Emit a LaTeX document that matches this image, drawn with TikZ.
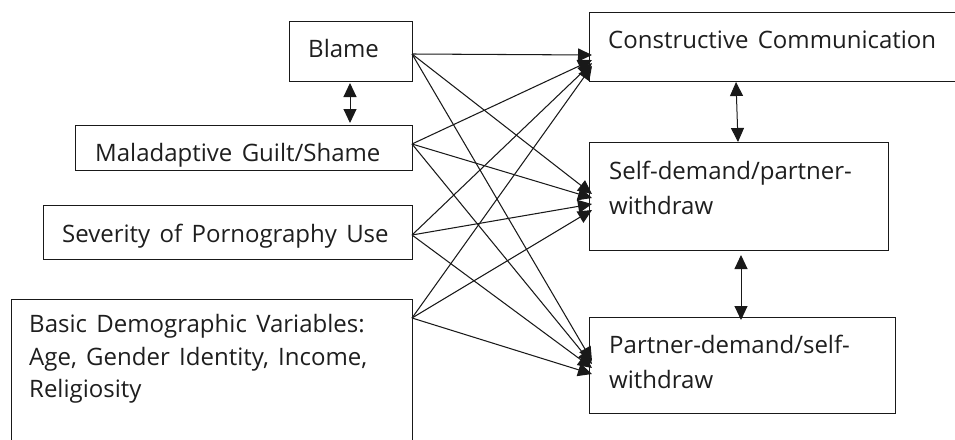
\documentclass[tikz,border=0pt]{standalone}
\usepackage{fontspec}
\setmainfont{Open Sans}[WordSpace=1.5]
\usetikzlibrary{arrows.meta}
\definecolor{ink}{RGB}{25,25,25}
\definecolor{txt}{RGB}{30,30,30}
\begin{document}
\begin{tikzpicture}[x=1pt,y=-1pt,
  box/.style={draw=ink,line width=1.3pt,inner sep=0pt,anchor=north west},
  lbl/.style={anchor=base west,inner sep=0pt,text=txt,font=\fontsize{24}{29}\selectfont},
  link/.style={draw=ink,line width=1.05pt,-{Triangle[length=14pt,width=13pt]}},
  both/.style={draw=ink,line width=1pt,{Triangle[length=14pt,width=13pt]}-{Triangle[length=14pt,width=13pt]}}]
\useasboundingbox (0,0) rectangle (955,439);
% boxes
\node[box,minimum width=123pt,minimum height=60pt] (blame) at (289,21) {};
\node[box,minimum width=337pt,minimum height=45pt] (guilt) at (75,125) {};
\node[box,minimum width=369pt,minimum height=54pt] (sev) at (43,205) {};
\node[box,minimum width=401pt,minimum height=150pt] (demo) at (11,299) {};
\node[box,minimum width=372pt,minimum height=69pt] (cons) at (589,12) {};
\node[box,minimum width=299pt,minimum height=108pt] (selfd) at (589,142) {};
\node[box,minimum width=306pt,minimum height=96pt] (partd) at (589,317) {};
% texts
\node[lbl] (tblame) at (308,57.3) {Blame};
\node[lbl] (tguilt) at (95,161.7) {Maladaptive Guilt/Shame};
\node[lbl] (tsev) at (62,242.7) {Severity of Pornography Use};
\node[lbl] (tdemo1) at (29,332.7) {Basic Demographic Variables:};
\node[lbl] (tdemo2) at (29,365) {Age, Gender Identity, Income,};
\node[lbl] (tdemo3) at (29,397.3) {Religiosity};
\node[lbl] (tcons) at (608,48.3) {Constructive Communication};
\node[lbl] (tself1) at (609,179.3) {Self-demand/partner-};
\node[lbl] (tself2) at (609,214) {withdraw};
\node[lbl] (tpart1) at (609,353.3) {Partner-demand/self-};
\node[lbl] (tpart2) at (609,388.3) {withdraw};
% ports
\coordinate (oB) at (412,54);
\coordinate (oG) at (412,144);
\coordinate (oS) at (412,235);
\coordinate (oD) at (412,318);
\coordinate (cB) at (592,55);
\coordinate (cG) at (592,60);
\coordinate (cS) at (592,63);
\coordinate (cD) at (592,66);
\coordinate (sB) at (592,194);
\coordinate (sG) at (592,198);
\coordinate (sS) at (592,204);
\coordinate (sD) at (592,210);
\coordinate (pB) at (592,361);
\coordinate (pG) at (592,364);
\coordinate (pS) at (592,368);
\coordinate (pD) at (592,374);
% paths
\foreach \s/\t in {oB/cB,oB/sB,oB/pB,oG/cG,oG/sG,oG/pG,oS/cS,oS/sS,oS/pS,oD/cD,oD/sD,oD/pD}
  \draw[link] (\s) -- (\t);
% correlations
\coordinate (a1t) at (350,83);
\coordinate (a1b) at (350,123);
\coordinate (a2t) at (736,82);
\coordinate (a2b) at (738,142);
\coordinate (a3t) at (741,255);
\coordinate (a3b) at (741,320);
\draw[both] (a1t) -- (a1b);
\draw[both] (a2t) -- (a2b);
\draw[both] (a3t) -- (a3b);
\end{tikzpicture}
\end{document}
